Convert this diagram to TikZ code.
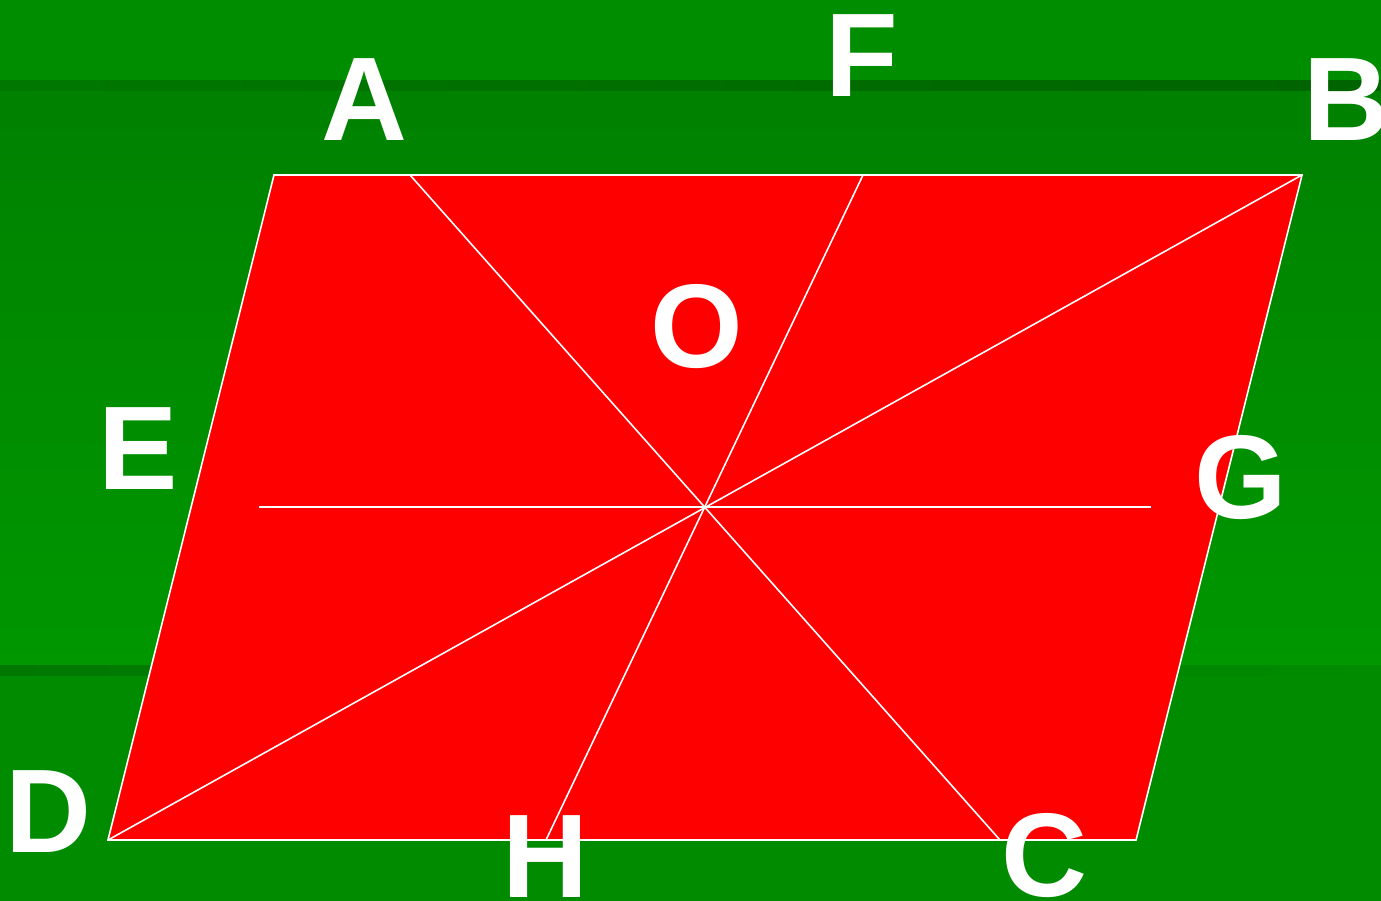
\documentclass[tikz,border=0pt]{standalone}
\usepackage{fontspec}
\setmainfont{Liberation Sans}
\begin{document}
\begin{tikzpicture}[x=1pt,y=-1pt,
  lbl/.style={text=white,font=\bfseries\fontsize{119}{119}\selectfont,inner sep=0pt},
  wl/.style={draw=white,line width=1.6pt}]
\definecolor{gtop}{RGB}{0,141,0}
\definecolor{gmidA}{RGB}{0,129,0}
\definecolor{gmidB}{RGB}{0,151,0}
\definecolor{gbot}{RGB}{0,139,0}
\definecolor{gdarkL}{RGB}{0,120,0}
\definecolor{gdarkR}{RGB}{0,100,0}
\definecolor{pred}{RGB}{255,0,0}
\useasboundingbox (0,0) rectangle (1381,901);
\fill[gtop] (0,0) rectangle (1381,82);
\shade[top color=gmidA,bottom color=gmidB] (0,90) rectangle (1381,666);
\fill[gbot] (0,666) rectangle (1381,901);
\shade[left color=gdarkL,right color=gdarkR] (0,81) rectangle (1381,91);
\shade[left color=gdarkL,right color=gbot] (0,665) rectangle (1381,675);
% points
\coordinate (A) at (274,175);
\coordinate (B) at (1302,175);
\coordinate (C) at (1136,840);
\coordinate (D) at (108,840);
\coordinate (O) at (705,507.5);
\coordinate (P1) at (410,175);
\coordinate (P2) at (1000,840);
\coordinate (Q1) at (863,175);
\coordinate (Q2) at (546,840);
\coordinate (R1) at (259,507);
\coordinate (R2) at (1151,507);
\fill[pred] (A) -- (B) -- (C) -- (D) -- cycle;
\draw[wl] (P1) -- (P2);
\draw[wl] (Q1) -- (Q2);
\draw[wl] (D) -- (B);
\draw[wl] (R1) -- (R2);
\draw[wl,line join=miter] (A) -- (B) -- (C) -- (D) -- cycle;
% labels
\node[lbl] (lA) at (364,100) {A};
\node[lbl] (lF) at (862,56) {F};
\node[lbl] (lB) at (1346,100) {B};
\node[lbl] (lO) at (697,327) {O};
\node[lbl] (lE) at (138,449) {E};
\node[lbl] (lG) at (1241,478) {G};
\node[lbl] (lD) at (48,812) {D};
\node[lbl] (lH) at (545,857) {H};
\node[lbl] (lC) at (1044,856) {C};
\end{tikzpicture}
\end{document}
